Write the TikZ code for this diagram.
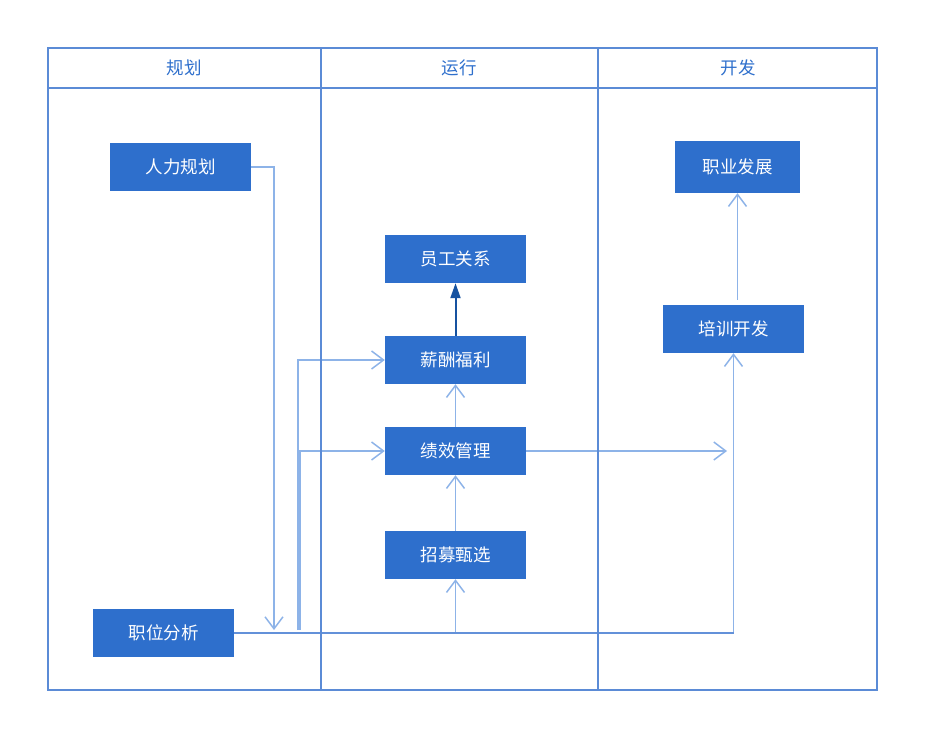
\documentclass[tikz,border=0pt]{standalone}
\usepackage{fontspec}
\newfontfamily\cjk{Noto Sans CJK SC}
\usepackage{tikz}
\usetikzlibrary{arrows.meta}
\definecolor{laneblue}{RGB}{91,139,214}
\definecolor{boxblue}{RGB}{46,111,204}
\definecolor{linkblue}{RGB}{141,179,232}
\definecolor{darklink}{RGB}{22,82,160}
\newcommand{\lanefont}{\cjk\fontsize{17.5}{17.5}\selectfont}
\newcommand{\widthtask}{141pt}
\newcommand{\heighttask}{48pt}
\tikzset{
    task/.style={fill=boxblue, text=white, inner sep=0pt, minimum width=\widthtask, minimum height=\heighttask, font=\lanefont},
    widetask/.style={task, minimum width=125pt, minimum height=52pt},
    lanehead/.style={text=boxblue, font=\lanefont},
    lane/.style={draw=laneblue, line width=1.5pt},
    link/.style={draw=linkblue, line width=1.5pt, -{Straight Barb[length=12pt, width=18pt]}},
    baseline/.style={draw=laneblue!85!linkblue, line width=1.5pt},
    mainlink/.style={draw=darklink, line width=2pt, -{Triangle[length=15pt, width=10pt]}}
}

\begin{document}
\begin{tikzpicture}[x=1pt, y=-1pt]
            \useasboundingbox (0,0) rectangle (939,752);

            \node[lanehead] (hPlan) at (184,68) {规划};
            \node[lanehead] (hRun) at (459,68) {运行};
            \node[lanehead] (hDev) at (738,68) {开发};

            \node[task] (plan) at (180.5,167) {人力规划};
            \node[task] (jobAna) at (163.5,633) {职位分析};
            \node[task] (staff) at (455.5,259) {员工关系};
            \node[task] (pay) at (455.5,360) {薪酬福利};
            \node[task] (perf) at (455.5,451) {绩效管理};
            \node[task] (recruit) at (455.5,555) {招募甄选};
            \node[widetask] (career) at (737.5,167) {职业发展};
            \node[task] (train) at (733.5,329) {培训开发};

            \coordinate (planDrop) at (274,630);
            \coordinate (payFoot) at (298,630);
            \coordinate (perfFoot) at (300,630);
            \coordinate (perfEnd) at (727,451);
            \coordinate (trainFoot) at (train.south |- jobAna.east);

            \draw[link] (plan.east) -| (planDrop);
            \draw[link] (recruit.south |- jobAna.east) -- (recruit.south);
            \draw[link] (trainFoot) -- (train.south);
            \draw[link] (payFoot) |- (pay.west);
            \draw[link] (perfFoot) |- (perf.west);
            \draw[link] (recruit) -- (perf);
            \draw[link] (perf) -- (pay);
            \draw[link] (perf.east) -- (perfEnd);
            \draw[link] (career.south |- train.north) ++(0,-5) -- (career.south);
            \draw[baseline] (jobAna.east) -- (trainFoot);
            \draw[mainlink] (pay) -- (staff);

            % swimlanes
            \draw[lane] (48,48) rectangle (877,690);
            \draw[lane] (48,88) -- (877,88);
            \draw[lane] (321,48) -- (321,690);
            \draw[lane] (598,48) -- (598,690);
        \end{tikzpicture}
\end{document}
